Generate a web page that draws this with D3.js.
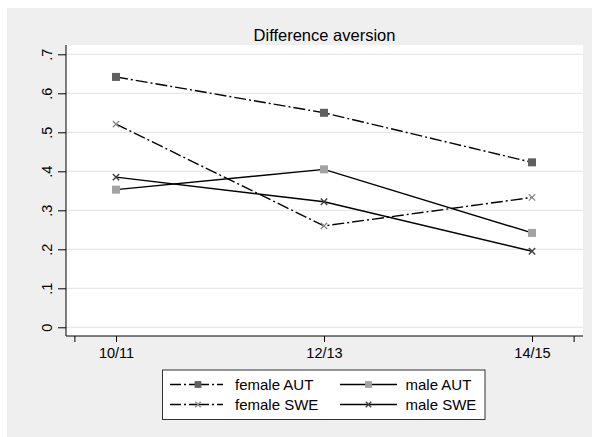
<!DOCTYPE html>
<html><head><meta charset="utf-8">
<script src="https://cdn.jsdelivr.net/npm/d3@7"></script>
<style>body{margin:0;background:#fff}svg{display:block;font-family:"Liberation Sans",Arial,sans-serif}</style>
</head><body><div id="chart"></div>
<script>
const categories = ["10/11", "12/13", "14/15"];
const femaleAUT = [0.642, 0.550, 0.423];
const maleAUT = [0.353, 0.405, 0.242];
const femaleSWE = [0.521, 0.260, 0.333];
const maleSWE = [0.385, 0.322, 0.195];
const yTicks = [0, 0.1, 0.2, 0.3, 0.4, 0.5, 0.6, 0.7];
const yTickLabels = ["0", ".1", ".2", ".3", ".4", ".5", ".6", ".7"];
const title = "Difference aversion";

const series = [
  {name: "female AUT", values: femaleAUT, dash: "12,3,2,3", marker: "square", color: "#606060"},
  {name: "male AUT", values: maleAUT, dash: null, marker: "square", color: "#a3a3a3"},
  {name: "female SWE", values: femaleSWE, dash: "12,3,2,3", marker: "x", color: "#8c8c8c"},
  {name: "male SWE", values: maleSWE, dash: null, marker: "x", color: "#404040"}
];

const W = 592, H = 437;
const svg = d3.select("#chart").append("svg").attr("width", W).attr("height", H);
svg.append("rect").attr("x", 7).attr("y", 8).attr("width", W - 7).attr("height", H - 8).attr("fill", "#efefef");

const plot = {l: 66, r: 583, t: 45, b: 336};
svg.append("rect").attr("x", plot.l).attr("y", plot.t).attr("width", plot.r - plot.l).attr("height", plot.b - plot.t).attr("fill", "#fff");

const x = d3.scaleLinear().domain([1, 3]).range([116, 532]);
const y = d3.scaleLinear().domain([0, 0.7]).range([327.3, 54.3]);

// gridlines
svg.append("g").selectAll("line").data(yTicks).join("line")
  .attr("x1", plot.l).attr("x2", plot.r)
  .attr("y1", d => y(d)).attr("y2", d => y(d))
  .attr("stroke", "#e8e8e8").attr("stroke-width", 1.2);

// y axis
const yAxis = d3.axisLeft(y).tickValues(yTicks).tickFormat((d, i) => yTickLabels[i]).tickSize(8).tickSizeOuter(0);
const gy = svg.append("g").attr("transform", `translate(${plot.l},0)`).call(yAxis);
gy.select(".domain").attr("d", `M0,${plot.t}V${plot.b}`).attr("stroke", "#000");
gy.selectAll(".tick line").attr("stroke", "#000");
gy.selectAll(".tick text").attr("font-size", 14.5).attr("fill", "#000")
  .attr("text-anchor", "middle").attr("dy", null).attr("x", null)
  .attr("transform", "translate(-18,0) rotate(-90)").attr("dominant-baseline", "middle");

// x axis
const xTickVals = [0.8, 1, 2, 3, 3.2];
const xAxis = d3.axisBottom(x).tickValues(xTickVals)
  .tickFormat(d => (Number.isInteger(d) ? categories[d - 1] : "")).tickSize(6).tickSizeOuter(0);
const gx = svg.append("g").attr("transform", `translate(0,${plot.b})`).call(xAxis);
gx.select(".domain").attr("d", `M${plot.l},0H${plot.r}`).attr("stroke", "#000");
gx.selectAll(".tick line").attr("stroke", "#000");
gx.selectAll(".tick text").attr("font-size", 14.5).attr("fill", "#000").attr("y", 12).attr("dy", "0.71em");

// title
svg.append("text").attr("x", 324.5).attr("y", 40.5).attr("text-anchor", "middle")
  .attr("font-size", 16.5).attr("fill", "#000").text(title);

const line = d3.line().x((d, i) => x(i + 1)).y(d => y(d));

function drawMarker(g, type, color, cx, cy, scale) {
  if (type === "square") {
    const s = 8 * scale;
    g.append("rect").attr("x", cx - s / 2).attr("y", cy - s / 2).attr("width", s).attr("height", s).attr("fill", color);
  } else {
    const s = 3.2 * scale;
    g.append("path").attr("d", `M${cx - s},${cy - s}L${cx + s},${cy + s}M${cx - s},${cy + s}L${cx + s},${cy - s}`)
      .attr("stroke", color).attr("stroke-width", 1.4).attr("fill", "none");
  }
}

const gl = svg.append("g");
series.forEach(s => {
  gl.append("path").datum(s.values).attr("d", line).attr("fill", "none")
    .attr("stroke", "#000").attr("stroke-width", 1.4)
    .attr("stroke-dasharray", s.dash);
});
series.forEach(s => {
  s.values.forEach((v, i) => drawMarker(gl, s.marker, s.color, x(i + 1), y(v), 1));
});

// legend
const lg = svg.append("g");
lg.append("rect").attr("x", 162.5).attr("y", 370).attr("width", 322.5).attr("height", 49.5)
  .attr("fill", "#fff").attr("stroke", "#333").attr("stroke-width", 1);
const cols = [{x0: 170, x1: 226, tx: 235}, {x0: 340, x1: 397, tx: 405.5}];
const rows = [384.5, 404.5];
const order = [[0, 0, 0], [1, 1, 0], [2, 0, 1], [3, 1, 1]];
order.forEach(([si, c, r]) => {
  const s = series[si], cc = cols[c], yy = rows[r];
  lg.append("line").attr("x1", cc.x0).attr("x2", cc.x1).attr("y1", yy).attr("y2", yy)
    .attr("stroke", "#000").attr("stroke-width", 1.3)
    .attr("stroke-dasharray", s.dash ? "11,3,2,3,20,3,2,3,6,100" : null);
  drawMarker(lg, s.marker, s.color, s.dash ? 198 : (cc.x0 + cc.x1) / 2, yy, 0.85);
  lg.append("text").attr("x", cc.tx).attr("y", yy).attr("dy", "0.36em")
    .attr("font-size", 15).attr("fill", "#000").text(s.name);
});
</script></body></html>
